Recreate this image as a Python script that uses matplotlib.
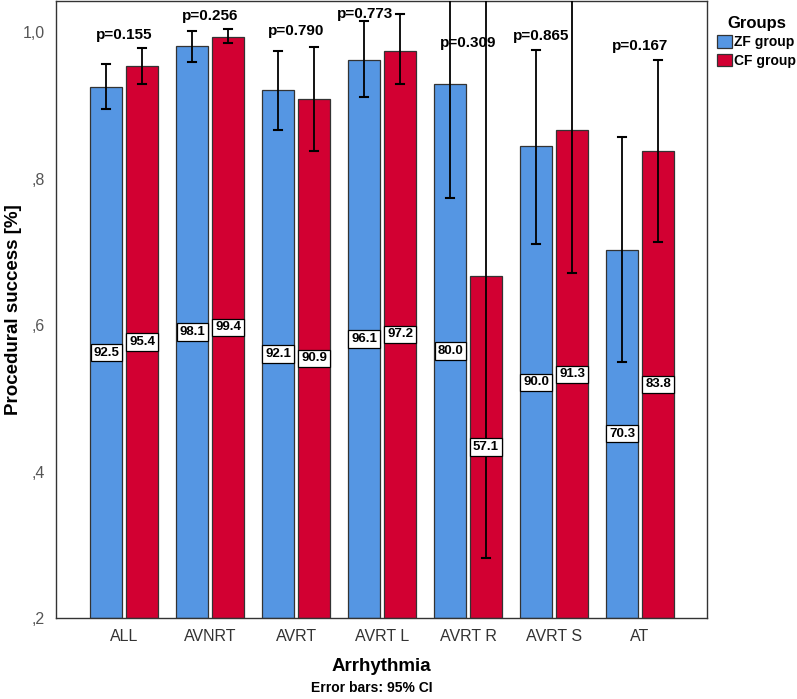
import numpy as np
import matplotlib
matplotlib.use("Agg")
import matplotlib.pyplot as plt

plt.rcParams['font.family'] = ['Liberation Sans', 'DejaVu Sans']

categories = ["ALL", "AVNRT", "AVRT", "AVRT L", "AVRT R", "AVRT S", "AT"]
groups = ["ZF group", "CF group"]

# bar heights as drawn (proportion)
zf_height = [0.925, 0.981, 0.921, 0.962, 0.929, 0.844, 0.703]
cf_height = [0.954, 0.994, 0.909, 0.975, 0.667, 0.866, 0.838]

# 95% CI limits (upper values above the axis are cut off by the frame)
zf_low = [0.895, 0.959, 0.867, 0.912, 0.774, 0.711, 0.549]
zf_high = [0.956, 1.002, 0.974, 1.015, 1.120, 0.976, 0.857]
cf_low = [0.929, 0.985, 0.838, 0.929, 0.282, 0.671, 0.713]
cf_high = [0.979, 1.005, 0.980, 1.025, 1.120, 1.120, 0.962]

# printed labels
zf_labels = ["92.5", "98.1", "92.1", "96.1", "80.0", "90.0", "70.3"]
cf_labels = ["95.4", "99.4", "90.9", "97.2", "57.1", "91.3", "83.8"]

p_values = ["p=0.155", "p=0.256", "p=0.790", "p=0.773", "p=0.309", "p=0.865", "p=0.167"]
p_xoff = [0, 0, 0, -0.2, 0, -0.15, 0]
p_y = [0.996, 1.022, 1.001, 1.025, 0.985, 0.995, 0.981]

blue = "#5596e3"
red = "#d20032"
ymin = 0.2

fig = plt.figure(figsize=(7.97, 6.99), dpi=100)
ax = fig.add_axes([0.0703, 0.1159, 0.8168, 0.8820])

x = np.arange(len(categories))
w = 0.372
off = 0.209

series = [
    (zf_height, zf_low, zf_high, zf_labels, blue, -off, groups[0]),
    (cf_height, cf_low, cf_high, cf_labels, red, off, groups[1]),
]
handles = []
for h, lo, hi, labs, col, dx, name in series:
    h = np.array(h)
    b = ax.bar(x + dx, h - ymin, width=w, bottom=ymin, color=col,
               edgecolor="#333333", linewidth=0.9, label=name, zorder=2)
    handles.append(b)
    for xi, hv, l, u, lab in zip(x + dx, h, lo, hi, labs):
        ax.plot([xi, xi], [l, u], color="black", lw=1.3, zorder=3)
        ax.plot([xi - 0.045, xi + 0.045], [l, l], color="black", lw=1.5, zorder=3)
        ax.plot([xi - 0.045, xi + 0.045], [u, u], color="black", lw=1.5, zorder=3)
        ax.text(xi, (ymin + hv) / 2, lab, ha="center", va="center",
                fontsize=9.5, fontweight="bold", zorder=4,
                bbox=dict(boxstyle="square,pad=0.2", fc="white", ec="black", lw=0.9))

for xi, p, dx, py in zip(x, p_values, p_xoff, p_y):
    ax.text(xi + dx, py, p, ha="center", va="center", fontsize=11,
            fontweight="bold", zorder=5)

ax.set_xlim(-0.791, 6.779)
ax.set_ylim(ymin, 1.042)
ax.set_xticks(x)
ax.set_xticklabels(categories, fontsize=11.5, color="#333333")
ax.set_yticks([0.2, 0.4, 0.6, 0.8, 1.0])
ax.set_yticklabels([",2", ",4", ",6", ",8", "1,0"], fontsize=11.5, color="#555555")
ax.tick_params(axis="both", length=0, pad=8)
for s in ax.spines.values():
    s.set_color("#333333")
    s.set_linewidth(1.0)

ax.set_xlabel("Arrhythmia", fontsize=13.5, fontweight="bold", labelpad=10)
ax.set_ylabel("Procedural success [%]", fontsize=13.5, fontweight="bold")
ax.yaxis.set_label_coords(-0.052, 0.5)
fig.text(0.466, 0.016, "Error bars: 95% CI", ha="center", va="center",
         fontsize=10, fontweight="bold")

leg = ax.legend(handles=handles, title="Groups", loc="upper left",
                bbox_to_anchor=(0.893, 0.985), bbox_transform=fig.transFigure,
                frameon=False, handlelength=1.05, handleheight=1.05,
                handletextpad=0.15, labelspacing=0.3, borderaxespad=0,
                prop={"weight": "bold", "size": 10})
leg.get_title().set_fontweight("bold")
leg.get_title().set_fontsize(12)

fig.savefig("out.png", dpi=100)
